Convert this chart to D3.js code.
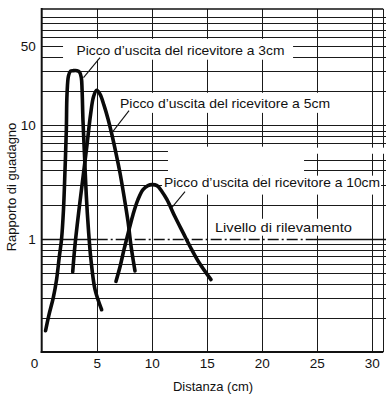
<!DOCTYPE html>
<html>
<head>
<meta charset="utf-8">
<script src="https://cdn.jsdelivr.net/npm/d3@7"></script>
<style>
  body { margin: 0; background: #fff; }
  svg { display: block; }
  text { font-family: "Liberation Sans", Arial, sans-serif; fill: #111; }
</style>
</head>
<body>
<div id="chart"></div>
<script>
// Curves (distance in cm, gain ratio)
const peak3cmX = [0.35, 0.66, 1.05, 1.35, 1.60, 1.80, 1.98, 2.12, 2.24, 2.30, 2.44, 2.62, 2.85, 3.21, 3.44, 3.60, 3.67, 3.75, 3.89, 4.05, 4.25, 4.48, 4.85, 5.45];
const peak3cmY = [0.154, 0.213, 0.301, 0.435, 0.694, 0.98, 1.80, 4.06, 9.2, 18.7, 27.5, 30.1, 30.4, 30.4, 29.5, 26.4, 20.7, 11.2, 5.5, 2.45, 1.20, 0.65, 0.355, 0.236];

const peak5cmX = [2.82, 3.03, 3.39, 3.75, 4.12, 4.44, 4.71, 5.0, 5.30, 5.66, 6.03, 6.39, 6.75, 7.12, 7.48, 7.85, 8.12, 8.48];
const peak5cmY = [0.51, 0.885, 1.80, 3.45, 6.76, 12.4, 17.9, 20.4, 18.9, 15.1, 11.4, 8.23, 5.70, 3.80, 2.38, 1.41, 0.863, 0.52];

const peak10cmX = [6.75, 7.12, 7.48, 7.87, 8.30, 8.75, 9.21, 9.66, 10.03, 10.48, 10.94, 11.39, 12.12, 12.85, 13.64, 14.33, 15.39];
const peak10cmY = [0.42, 0.566, 0.80, 1.13, 1.63, 2.21, 2.71, 2.94, 3.0, 2.94, 2.60, 2.21, 1.56, 1.13, 0.80, 0.61, 0.435];

const detectionLevel = 1;

// Axis ticks
const xTicks = [0, 5, 10, 15, 20, 25, 30];
const yTickLabels = [1, 10, 50];

// Annotation texts, anchored in data units (start x, baseline y)
const labelTexts = [
  "Picco d\u2019uscita del ricevitore a 3cm",
  "Picco d\u2019uscita del ricevitore a 5cm",
  "Picco d\u2019uscita del ricevitore a 10cm",
  "Livello di rilevamento"
];
const labelX = [3.16, 7.12, 11.12, 15.75];
const labelY = [42.1, 14.3, 2.88, 1.153];
const labelWidth = [208, 210, 216, 137];

// Leader lines [x1, y1, x2, y2] in data units
const leaders = [
  [5.30, 39.6, 3.80, 26.4],
  [7.94, 13.5, 6.39, 8.62],
  [13.03, 2.60, 11.75, 1.84]
];

// White patches behind the labels [x0, x1, yTop, yBottom] in data units
const labelPatches = [
  [1.94, 22.85, 58, 38],
  [6.85, 26.67, 19.4, 12.9],
  [11.48, 23.85, 6.49, 3.60],
  [11.48, 31.3, 6.36, 5.62],
  [10.94, 30.85, 3.60, 2.45],
  [15.48, 28.48, 1.50, 1.063]
];

// Set Dimensions
const width = 386;
const height = 395;

const x = d3.scaleLinear().domain([0, 31.3]).range([41.7, 386]);
const y = d3.scaleLog().domain([0.1, 106.5]).range([352, 9]);
const crisp = v => Math.round(v) + 0.5;

const svg = d3.select("#chart")
  .append("svg")
  .attr("width", width)
  .attr("height", height);

// Horizontal grid: 1..9 in each decade
const hLines = [];
[0.1, 1, 10].forEach(d => {
  for (let k = 1; k <= 9; k++) {
    const v = +(d * k).toPrecision(3);
    if (v === 0.1 || v === detectionLevel) continue;
    hLines.push(v);
  }
});

const grid = svg.append("g").attr("stroke", "#1a1a1a").attr("stroke-width", 1);

grid.selectAll("line.h")
  .data(hLines).enter()
  .append("line")
  .attr("x1", x(0)).attr("x2", width)
  .attr("y1", d => crisp(y(d))).attr("y2", d => crisp(y(d)));

grid.selectAll("line.v")
  .data(xTicks.slice(1)).enter()
  .append("line")
  .attr("x1", d => crisp(x(d))).attr("x2", d => crisp(x(d)))
  .attr("y1", y.range()[1]).attr("y2", y.range()[0]);

// right edge of the grid
grid.append("line")
  .attr("x1", crisp(x(31.05))).attr("x2", crisp(x(31.05)))
  .attr("y1", y.range()[1]).attr("y2", y.range()[0]);

// Patches under labels
svg.append("g")
  .selectAll("rect")
  .data(labelPatches).enter()
  .append("rect")
  .attr("x", d => x(d[0]))
  .attr("width", d => x(d[1]) - x(d[0]))
  .attr("y", d => y(d[2]))
  .attr("height", d => y(d[3]) - y(d[2]))
  .attr("fill", "#fff");

// Detection level: solid, dash-dot, solid
const yDet = crisp(y(detectionLevel));
const detSegments = [[0, 5, null], [5, 24.75, "11,3,2,3"], [24.75, 31.3, null]];
svg.append("g")
  .selectAll("line")
  .data(detSegments).enter()
  .append("line")
  .attr("x1", d => x(d[0])).attr("x2", d => x(d[1]))
  .attr("y1", yDet).attr("y2", yDet)
  .attr("stroke", "#111")
  .attr("stroke-width", 1.4)
  .attr("stroke-dasharray", d => d[2]);

// Frame
const frame = svg.append("g").attr("stroke", "#111").attr("fill", "none");
frame.append("line")
  .attr("x1", x(0)).attr("x2", x(0))
  .attr("y1", y.range()[1] - 1).attr("y2", y.range()[0] + 1)
  .attr("stroke-width", 2);
frame.append("line")
  .attr("x1", x(0) - 1).attr("x2", x(31.05))
  .attr("y1", y.range()[0]).attr("y2", y.range()[0])
  .attr("stroke-width", 2);
frame.append("line")
  .attr("x1", x(0)).attr("x2", x(31.05))
  .attr("y1", y.range()[1]).attr("y2", y.range()[1])
  .attr("stroke-width", 1.6);

// Curves
const line = d3.line()
  .x(d => x(d[0]))
  .y(d => y(d[1]))
  .curve(d3.curveCatmullRom.alpha(0.5));

const curves = [
  d3.zip(peak3cmX, peak3cmY),
  d3.zip(peak5cmX, peak5cmY),
  d3.zip(peak10cmX, peak10cmY)
];

svg.append("g")
  .selectAll("path")
  .data(curves).enter()
  .append("path")
  .attr("d", line)
  .attr("fill", "none")
  .attr("stroke", "#0a0a0a")
  .attr("stroke-width", 3.6)
  .attr("stroke-linecap", "round")
  .attr("stroke-linejoin", "round");

// Leader lines
svg.append("g")
  .selectAll("line")
  .data(leaders).enter()
  .append("line")
  .attr("x1", d => x(d[0])).attr("y1", d => y(d[1]))
  .attr("x2", d => x(d[2])).attr("y2", d => y(d[3]))
  .attr("stroke", "#111")
  .attr("stroke-width", 1.1);

// Labels
svg.append("g")
  .selectAll("text")
  .data(labelTexts).enter()
  .append("text")
  .attr("x", (d, i) => x(labelX[i]))
  .attr("y", (d, i) => y(labelY[i]))
  .attr("font-size", 13)
  .attr("textLength", (d, i) => labelWidth[i])
  .attr("lengthAdjust", "spacingAndGlyphs")
  .text(d => d);

// X Axis
const xAxis = svg.append("g")
  .attr("transform", "translate(0," + y.range()[0] + ")")
  .call(d3.axisBottom(x).tickValues(xTicks).tickSize(0).tickPadding(6));
xAxis.select(".domain").remove();
xAxis.selectAll("text")
  .attr("font-size", 13.5)
  .attr("font-family", "Liberation Sans, Arial, sans-serif")
  .attr("fill", "#111");
xAxis.selectAll(".tick")
  .filter(d => d === 0)
  .select("text")
  .attr("text-anchor", "end")
  .attr("dx", -4);

// Y Axis
const yAxis = svg.append("g")
  .attr("transform", "translate(" + x(0) + ",0)")
  .call(d3.axisLeft(y).tickValues(yTickLabels).tickFormat(d3.format("d")).tickSize(0).tickPadding(6));
yAxis.select(".domain").remove();
yAxis.selectAll("text")
  .attr("font-size", 13.5)
  .attr("font-family", "Liberation Sans, Arial, sans-serif")
  .attr("fill", "#111");

// Axis titles
svg.append("text")
  .attr("x", 213)
  .attr("y", 391)
  .attr("text-anchor", "middle")
  .attr("font-size", 13)
  .text("Distanza (cm)");

svg.append("text")
  .attr("transform", "translate(16,187) rotate(-90)")
  .attr("text-anchor", "middle")
  .attr("font-size", 13)
  .text("Rapporto di guadagno");
</script>
</body>
</html>
